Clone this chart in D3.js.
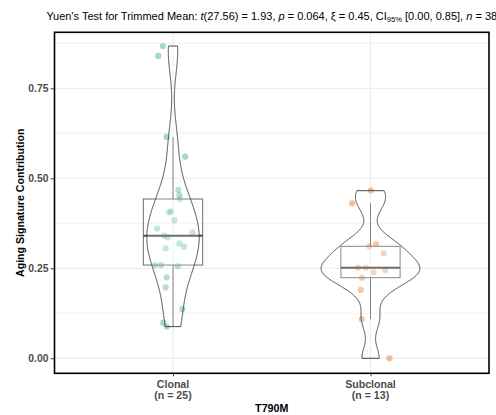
<!DOCTYPE html>
<html>
<head>
<meta charset="utf-8">
<script src="https://cdn.jsdelivr.net/npm/d3@7"></script>
<style>
  html, body { margin: 0; padding: 0; background: #ffffff; }
  svg { display: block; font-family: "Liberation Sans", Arial, sans-serif; }
</style>
</head>
<body>
<svg id="chart" width="496" height="415"></svg>
<script>
// ---------------- data ----------------
const categories = ["Clonal", "Subclonal"];
const xAxisTitle = "T790M";
const yAxisTitle = "Aging Signature Contribution";

const clonalValues = [0.8675, 0.840, 0.615, 0.560, 0.468, 0.4536, 0.4425, 0.4056, 0.408, 0.383,
  0.360, 0.349, 0.3406, 0.336, 0.319, 0.310, 0.3056, 0.259, 0.259, 0.256,
  0.225, 0.197, 0.137, 0.099, 0.088];
const clonalJitter = [-0.051, -0.075, -0.032, 0.062, 0.027, 0.032, 0.035, -0.020, -0.010, 0.007,
  -0.080, 0.098, -0.044, -0.027, 0.032, 0.056, -0.037, -0.091, -0.061, 0.024,
  -0.032, -0.037, 0.047, -0.049, -0.032];

const subclonalValues = [0.4656, 0.4306, 0.311, 0.3175, 0.2917, 0.2517, 0.2517, 0.245, 0.239, 0.224,
  0.190, 0.109, 0.0];
const subclonalJitter = [0.002, -0.093, -0.007, 0.028, 0.067, -0.063, -0.024, 0.074, 0.015, -0.043,
  -0.049, -0.044, 0.096];

const groupValues = [clonalValues, subclonalValues];
const groupJitter = [clonalJitter, subclonalJitter];
const groupColors = ["#1B9E77", "#D95F02"];

const yTicks = [0, 0.25, 0.5, 0.75];
const yMinorTicks = [0.125, 0.375, 0.625, 0.875];

// Yuen's test subtitle pieces
const statParts = [
  {t: "Yuen's Test for Trimmed Mean: "},
  {t: "t", i: true}, {t: "(27.56) = 1.93, "},
  {t: "p", i: true}, {t: " = 0.064, "},
  {t: "\u03BE = 0.45, CI"}, {t: "95%", sub: true}, {t: " [0.00, 0.85], "},
  {t: "n", i: true}, {t: " = 38"}
];

// ---------------- layout ----------------
const W = 496, H = 415;
const panel = {left: 54.5, right: 489, top: 32.3, bottom: 373.3};

const svg = d3.select("#chart");

const x = d3.scalePoint().domain(categories).range([panel.left, panel.right]).padding(0.6);
const step = x.step();
const y = d3.scaleLinear().domain([-0.0417, 0.9056]).range([panel.bottom, panel.top]);

// ---------------- grid ----------------
const grid = svg.append("g");
grid.selectAll("line.minor").data(yMinorTicks).join("line")
  .attr("x1", panel.left).attr("x2", panel.right)
  .attr("y1", d => y(d)).attr("y2", d => y(d))
  .attr("stroke", "#ececec").attr("stroke-width", 0.8);
grid.selectAll("line.major").data(yTicks).join("line")
  .attr("x1", panel.left).attr("x2", panel.right)
  .attr("y1", d => y(d)).attr("y2", d => y(d))
  .attr("stroke", "#e6e6e6").attr("stroke-width", 0.9);
grid.selectAll("line.vert").data(categories).join("line")
  .attr("x1", d => x(d)).attr("x2", d => x(d))
  .attr("y1", panel.top).attr("y2", panel.bottom)
  .attr("stroke", "#e6e6e6").attr("stroke-width", 0.9);

// ---------------- stats helpers ----------------
function bwNrd0(vals) {
  const s = d3.sort(vals);
  const sd = d3.deviation(s);
  const iqr = (d3.quantile(s, 0.75) - d3.quantile(s, 0.25)) / 1.34;
  let lo = Math.min(sd, iqr);
  if (!(lo > 0)) lo = sd || Math.abs(s[0]) || 1;
  return 0.9 * lo * Math.pow(s.length, -0.2);
}
function kde(vals, nPts) {
  const bw = bwNrd0(vals);
  const lo = d3.min(vals), hi = d3.max(vals);
  const out = [];
  for (let k = 0; k < nPts; k++) {
    const v = lo + (hi - lo) * k / (nPts - 1);
    let s = 0;
    for (const xi of vals) {
      const z = (v - xi) / bw;
      s += Math.exp(-0.5 * z * z);
    }
    out.push({v, d: s / (vals.length * bw * Math.sqrt(2 * Math.PI))});
  }
  return out;
}
const densities = groupValues.map(v => kde(v, 512));
const maxDens = d3.max(densities, ds => d3.max(ds, p => p.d));

// ---------------- points (drawn first, as in ggstatsplot) ----------------
const pts = svg.append("g");
categories.forEach((cat, gi) => {
  const data = groupValues[gi].map((v, i) => ({v, j: groupJitter[gi][i]}));
  pts.selectAll(null).data(data).join("circle")
    .attr("cx", d => x(cat) + d.j * step)
    .attr("cy", d => y(d.v))
    .attr("r", 3.1)
    .attr("fill", groupColors[gi])
    .attr("fill-opacity", 0.4);
});

// ---------------- boxplots ----------------
const boxHalf = 0.15 * step;
const boxes = svg.append("g");
categories.forEach((cat, gi) => {
  const s = d3.sort(groupValues[gi]);
  const q1 = d3.quantile(s, 0.25), med = d3.quantile(s, 0.5), q3 = d3.quantile(s, 0.75);
  const iqr = q3 - q1;
  const wHi = d3.max(s.filter(v => v <= q3 + 1.5 * iqr));
  const wLo = d3.min(s.filter(v => v >= q1 - 1.5 * iqr));
  const cx = x(cat);
  const g = boxes.append("g");
  g.append("line").attr("x1", cx).attr("x2", cx).attr("y1", y(q3)).attr("y2", y(wHi))
    .attr("stroke", "#666").attr("stroke-width", 1);
  g.append("line").attr("x1", cx).attr("x2", cx).attr("y1", y(q1)).attr("y2", y(wLo))
    .attr("stroke", "#666").attr("stroke-width", 1);
  g.append("rect").attr("x", cx - boxHalf).attr("y", y(q3))
    .attr("width", 2 * boxHalf).attr("height", y(q1) - y(q3))
    .attr("fill", "#ffffff").attr("fill-opacity", 0.2)
    .attr("stroke", "#7a7a7a").attr("stroke-width", 1.1);
  g.append("line").attr("x1", cx - boxHalf).attr("x2", cx + boxHalf)
    .attr("y1", y(med)).attr("y2", y(med))
    .attr("stroke", "#4a4a4a").attr("stroke-width", 2);
});

// ---------------- violins ----------------
const violins = svg.append("g");
categories.forEach((cat, gi) => {
  const ds = densities[gi];
  const cx = x(cat);
  const half = d => (d / maxDens) * 0.25 * step;
  const left = ds.map(p => [cx - half(p.d), y(p.v)]);
  const right = ds.map(p => [cx + half(p.d), y(p.v)]).reverse();
  const path = d3.line()(left.concat(right)) + "Z";
  violins.append("path").attr("d", path)
    .attr("fill", "#ffffff").attr("fill-opacity", 0.2)
    .attr("stroke", "#333333").attr("stroke-width", 0.9);
});

// ---------------- axes ----------------
const yAxis = d3.axisLeft(y).tickValues(yTicks).tickFormat(d3.format(".2f"))
  .tickSize(4).tickSizeOuter(0).tickPadding(2);
const gy = svg.append("g").attr("transform", `translate(${panel.left},0)`).call(yAxis);
gy.select(".domain").remove();
gy.selectAll(".tick line").attr("stroke", "#333").attr("stroke-width", 0.9);
gy.selectAll(".tick text").attr("fill", "#4d4d4d").attr("font-size", 10.4)
  .attr("font-weight", "bold").attr("font-family", "Liberation Sans, Arial, sans-serif");

const xAxis = d3.axisBottom(x).tickSize(3).tickSizeOuter(0).tickFormat("");
const gx = svg.append("g").attr("transform", `translate(0,${panel.bottom})`).call(xAxis);
gx.select(".domain").remove();
gx.selectAll(".tick line").attr("stroke", "#333").attr("stroke-width", 0.9);

const xl = svg.append("g");
categories.forEach((cat, gi) => {
  const t = xl.append("text").attr("x", x(cat)).attr("y", 387.5)
    .attr("text-anchor", "middle").attr("font-size", 10.6).attr("font-weight", "bold")
    .attr("fill", "#4d4d4d");
  t.append("tspan").attr("x", x(cat)).attr("y", 387.5).text(cat);
  t.append("tspan").attr("x", x(cat)).attr("y", 399).text(`(n = ${groupValues[gi].length})`);
});

// border
svg.append("rect").attr("x", panel.left).attr("y", panel.top)
  .attr("width", panel.right - panel.left).attr("height", panel.bottom - panel.top)
  .attr("fill", "none").attr("stroke", "#000").attr("stroke-width", 1.6);

// axis titles
svg.append("text").attr("x", (panel.left + panel.right) / 2).attr("y", 412)
  .attr("text-anchor", "middle").attr("font-size", 10.7).attr("font-weight", "bold")
  .attr("fill", "#000").text(xAxisTitle);
svg.append("text")
  .attr("transform", `translate(24,${(panel.top + panel.bottom) / 2}) rotate(-90)`)
  .attr("text-anchor", "middle").attr("font-size", 10.6).attr("font-weight", "bold")
  .attr("fill", "#000").text(yAxisTitle);

// subtitle (centered on panel, overflowing the right edge as in the reference)
const sub = svg.append("text").attr("x", (panel.left + panel.right) / 2).attr("y", 19.5)
  .attr("text-anchor", "middle").attr("font-size", 11).attr("fill", "#000");
statParts.forEach((p, i) => {
  const ts = sub.append("tspan").text(p.t);
  if (p.i) ts.attr("font-style", "italic");
  if (p.sub) ts.attr("font-size", 7.6).attr("dy", 2.7);
  else if (i > 0 && statParts[i - 1].sub) ts.attr("dy", -2.7);
});
</script>
</body>
</html>
